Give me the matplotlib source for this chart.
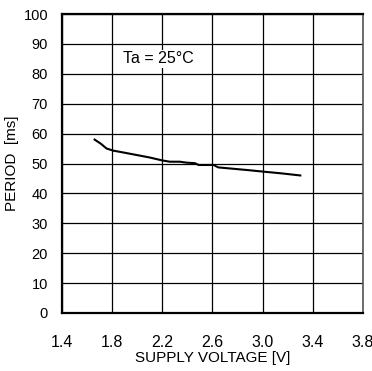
import matplotlib
matplotlib.use("Agg")
import matplotlib.pyplot as plt

plt.rcParams['font.family'] = ['Liberation Sans', 'DejaVu Sans']

# Supply voltage vs oscillation period at Ta = 25°C
voltage = [1.66, 1.71, 1.756, 1.809, 1.9, 2.0, 2.1, 2.202, 2.26, 2.34, 2.39, 2.46, 2.49,
           2.61, 2.645, 2.75, 2.88, 3.0, 3.15, 3.30]
period = [58.0, 56.6, 55.0, 54.3, 53.6, 52.8, 52.0, 51.0, 50.6, 50.6, 50.3, 50.1, 49.5,
          49.5, 48.7, 48.3, 47.8, 47.3, 46.7, 46.0]

xticks = [1.4, 1.8, 2.2, 2.6, 3.0, 3.4, 3.8]
xticklabels = ["1.4", "1.8", "2.2", "2.6", "3.0", "3.4", "3.8"]
yticks = list(range(0, 101, 10))

fig = plt.figure(figsize=(3.72, 3.71), dpi=100)
ax = fig.add_axes([62 / 372, 1 - 313 / 371, (363 - 62) / 372, (313 - 14) / 371])

ax.plot(voltage, period, color='black', linewidth=1.5, zorder=3)

ax.set_xlim(1.4, 3.8)
ax.set_ylim(0, 100)
ax.set_xticks(xticks)
ax.set_xticklabels(xticklabels)
ax.set_yticks(yticks)
ax.grid(True, color='black', linewidth=0.9)
ax.tick_params(axis='both', length=0)
ax.tick_params(axis='x', pad=15.5, labelsize=11.5)
ax.tick_params(axis='y', pad=10, labelsize=10.5)

for side in ('left', 'bottom', 'top'):
    ax.spines[side].set_linewidth(1.6)
ax.spines['right'].set_linewidth(1.2)
ax.spines['right'].set_color('#555555')

ax.set_xlabel("SUPPLY VOLTAGE [V]", fontsize=11)
ax.xaxis.set_label_coords(0.5, -0.128)
ax.set_ylabel("PERIOD  [ms]", fontsize=11, labelpad=3)

ax.text(1.885, 85, "Ta = 25°C", fontsize=11.5, va='center', ha='left',
        bbox=dict(facecolor='white', edgecolor='none', pad=1))

fig.savefig("out.png", dpi=100)
